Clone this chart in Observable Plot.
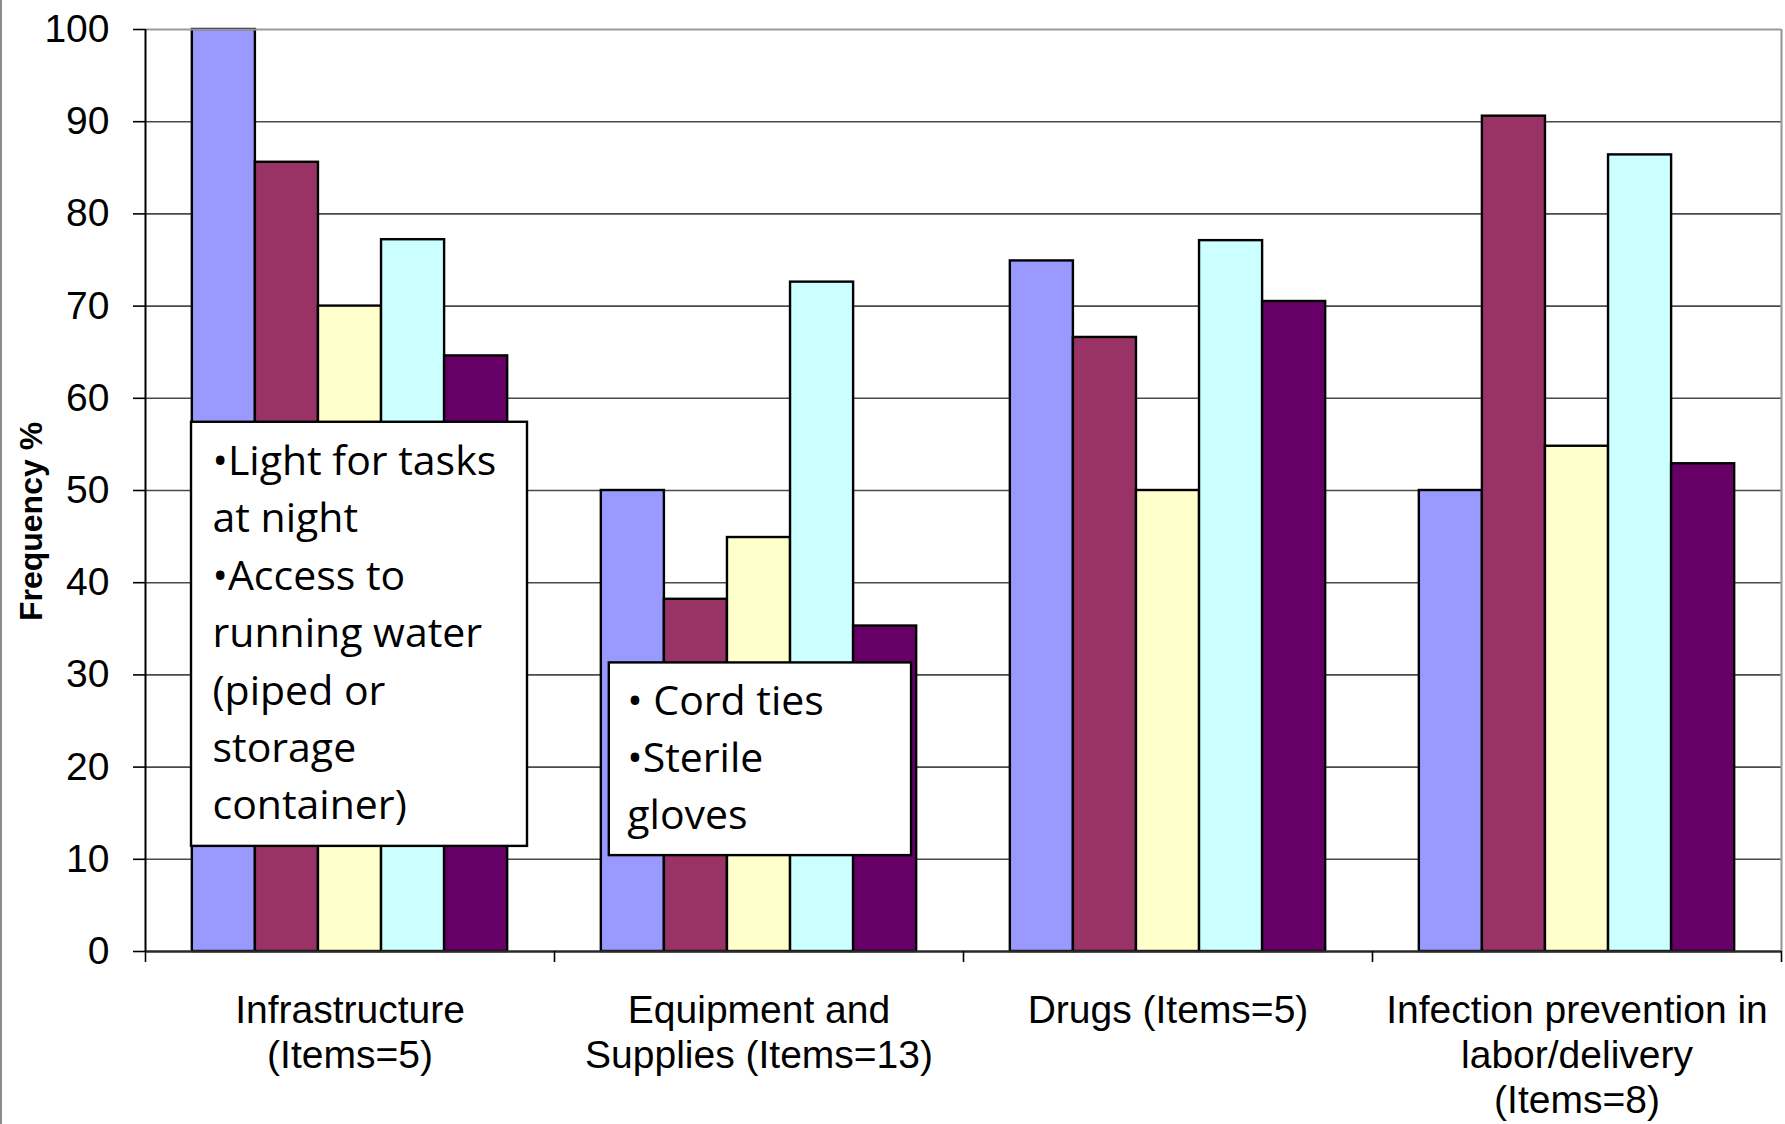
<!DOCTYPE html>
<html>
<head>
<meta charset="utf-8">
<script src="https://cdn.jsdelivr.net/npm/d3@7"></script>
<script src="https://cdn.jsdelivr.net/npm/@observablehq/plot@0.6"></script>
<style>
  html, body { margin: 0; padding: 0; background: #fff; }
  #wrap { position: relative; width: 1785px; height: 1124px; overflow: hidden; }
  #edge { position: absolute; left: 0; top: 0; bottom: 0; width: 2px; background: #8c8c8c; }
</style>
</head>
<body>
<div id="wrap"><div id="edge"></div></div>
<script>
// ---- data ----
const categories = [
  "Infrastructure\n(Items=5)",
  "Equipment and\nSupplies (Items=13)",
  "Drugs (Items=5)",
  "Infection prevention in\nlabor/delivery\n(Items=8)"
];
const series = ["Series 1", "Series 2", "Series 3", "Series 4", "Series 5"];
const seriesColors = ["#9999FF", "#993366", "#FFFFCC", "#CCFFFF", "#660066"];
const infrastructure = [100, 85.6, 70, 77.2, 64.6];
const equipmentSupplies = [50, 38.2, 44.9, 72.6, 35.3];
const drugs = [74.9, 66.6, 50, 77.1, 70.5];
const infectionPrevention = [50, 90.6, 54.8, 86.4, 52.9];
const yTicks = [0, 10, 20, 30, 40, 50, 60, 70, 80, 90, 100];
const yLabel = "Frequency %";
const notes = [
  {category: 0, left: 0.1125, right: 0.934, top: 57.4, bottom: 11.4, text: "•Light for tasks\nat night\n•Access to\nrunning water\n(piped or\nstorage\ncontainer)", dx: 21, dy: 12},
  {category: 1, left: 0.134, right: 0.873, top: 31.3, bottom: 10.4, text: "• Cord ties\n•Sterile\ngloves", dx: 18, dy: 11}
];

// ---- layout of grouped bars (fractions of a category slot) ----
const groupPad = 0.1145;
const barW = (1 - 2 * groupPad) / series.length;
const groups = [infrastructure, equipmentSupplies, drugs, infectionPrevention];
const bars = groups.flatMap((vals, ci) => vals.map((v, si) => ({
  category: categories[ci],
  series: series[si],
  value: v,
  x1: ci + groupPad + si * barW,
  x2: ci + groupPad + (si + 1) * barW
})));
const noteRows = notes.map(n => ({...n, x1: n.category + n.left, x2: n.category + n.right}));
const boundaries = d3.range(categories.length + 1);
const centers = categories.map((c, i) => i + 0.5);

const chart = Plot.plot({
  width: 1785,
  height: 1124,
  marginLeft: 145,
  marginRight: 4,
  marginTop: 29,
  marginBottom: 173,
  style: {fontFamily: "'Liberation Sans', Arial, sans-serif", fontSize: "39px", color: "black", background: "white", overflow: "visible"},
  x: {domain: [0, categories.length], axis: null},
  y: {domain: [0, 100], axis: null},
  color: {domain: series, range: seriesColors},
  marks: [
    Plot.ruleY(yTicks.filter(t => t > 0 && t < 100), {stroke: "#4a4a4a", strokeWidth: 1.6}),
    Plot.rect(bars, {x1: "x1", x2: "x2", y1: 0, y2: "value", fill: "series", stroke: "black", strokeWidth: 2.4}),
    Plot.ruleY([100], {stroke: "#9a9a9a", strokeWidth: 2.2}),
    Plot.ruleX([categories.length], {stroke: "#9a9a9a", strokeWidth: 2.2}),
    Plot.ruleY([0], {stroke: "#2a2a2a", strokeWidth: 2.6}),
    Plot.ruleX([0], {stroke: "black", strokeWidth: 2}),
    Plot.axisY({ticks: yTicks, tickSize: 12, tickPadding: 24, tickFormat: d => String(d), label: null, strokeWidth: 1.6}),
    Plot.axisX({ticks: boundaries, tickSize: 11, tickFormat: () => "", label: null, strokeWidth: 1.6}),
    Plot.axisX({ticks: centers, tickSize: 0, tickPadding: 39, tickFormat: d => categories[Math.floor(d)], lineHeight: 1.16, label: null}),
    Plot.rect(noteRows, {x1: "x1", x2: "x2", y1: "bottom", y2: "top", fill: "white", stroke: "black", strokeWidth: 2.4}),
    ...noteRows.map(n => Plot.text([n], {x: "x1", y: "top", text: "text", textAnchor: "start", lineAnchor: "top", lineHeight: 1.4, dx: n.dx, dy: n.dy, fontFamily: "'Open Sans', sans-serif", fontSize: 41, fill: "black"})),
    Plot.text([yLabel], {frameAnchor: "left", textAnchor: "middle", rotate: -90, dx: -114, dy: 31, fontWeight: "bold", fontSize: 32, fill: "black"})
  ]
});
document.getElementById("wrap").appendChild(chart);
</script>
</body>
</html>
